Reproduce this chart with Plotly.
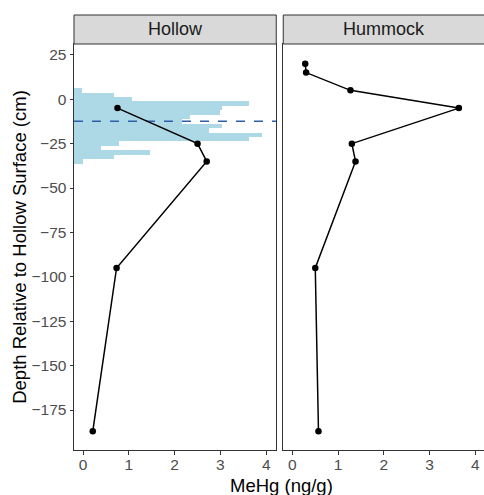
import plotly.graph_objects as go

# ---- data ----
hollow_depth = [-5, -25, -35, -95, -187]
hollow_mehg = [0.75, 2.50, 2.70, 0.73, 0.21]

hummock_depth = [20, 15, 5, -5, -25, -35, -95, -187]
hummock_mehg = [0.28, 0.30, 1.27, 3.64, 1.30, 1.38, 0.50, 0.57]

# water table histogram (bin centres in cm, bar extents on MeHg axis)
hist_depth = [5, 2.5, 0, -2.5, -5, -7.5, -10, -12.5, -15, -17.5, -20, -22.5,
              -25, -27.5, -30, -32.5, -35]
hist_extent = [-0.02, 0.67, 1.07, 3.62, 3.03, 3.00, 2.34, 2.16, 3.03, 2.74,
               3.91, 3.62, 0.78, 0.38, 1.47, 0.67, 0.0]
hist_binwidth = 2.5
mean_water_table = -12.4

panels = ["Hollow", "Hummock"]
x_ticks = [0, 1, 2, 3, 4]
y_ticks = [25, 0, -25, -50, -75, -100, -125, -150, -175]

x_range_left = [-0.2, 4.22]
x_range_right = [-0.2, 4.19]
y_range = [-197.5, 31.1]

FONT = "Liberation Sans, Arial, sans-serif"
BORDER = "#333333"
TICKCOL = "#4D4D4D"

fig = go.Figure()

# histogram of water table (Hollow panel)
fig.add_trace(go.Bar(
    y=hist_depth,
    x=[e - x_range_left[0] for e in hist_extent],
    base=x_range_left[0],
    orientation="h",
    width=hist_binwidth,
    marker=dict(color="#ADD8E6", line=dict(width=0)),
    xaxis="x", yaxis="y", showlegend=False, hoverinfo="skip",
))

# mean water table dashed line
fig.add_trace(go.Scatter(
    x=x_range_left, y=[mean_water_table, mean_water_table], mode="lines",
    line=dict(color="#2F5DA8", width=1.3, dash="dash"),
    xaxis="x", yaxis="y", showlegend=False, hoverinfo="skip",
))

fig.add_trace(go.Scatter(
    x=hollow_mehg, y=hollow_depth, mode="lines+markers",
    line=dict(color="black", width=1.5),
    marker=dict(color="black", size=6.5),
    xaxis="x", yaxis="y", showlegend=False,
))
fig.add_trace(go.Scatter(
    x=hummock_mehg, y=hummock_depth, mode="lines+markers",
    line=dict(color="black", width=1.5),
    marker=dict(color="black", size=6.5),
    xaxis="x2", yaxis="y2", showlegend=False,
))

dom_left = [0, 0.4933]
dom_right = [0.5104, 1]

common_x = dict(
    showgrid=False, zeroline=False, showline=True, linecolor=BORDER, linewidth=1,
    ticks="outside", ticklen=3.5, tickcolor=BORDER, tickwidth=1,
    tickvals=x_ticks, tickfont=dict(family=FONT, size=15.5, color=TICKCOL),
    ticklabelstandoff=-3,
)
fig.update_layout(
    xaxis=dict(domain=dom_left, range=x_range_left, anchor="y", mirror=True, **common_x),
    xaxis2=dict(domain=dom_right, range=x_range_right, anchor="y2", mirror=True, **common_x),
    yaxis=dict(
        domain=[0, 1], range=y_range, anchor="x", showgrid=False, zeroline=False,
        showline=True, mirror=True, linecolor=BORDER, linewidth=1,
        ticks="outside", ticklen=3.5, tickcolor=BORDER, tickwidth=1,
        tickvals=y_ticks, tickfont=dict(family=FONT, size=15.5, color=TICKCOL),
        title=dict(text="Depth Relative to Hollow Surface (cm)",
                   font=dict(family=FONT, size=18.5, color="black"), standoff=0),
    ),
    yaxis2=dict(
        domain=[0, 1], range=y_range, anchor="x2", showgrid=False, zeroline=False,
        showline=True, mirror=False, linecolor=BORDER, linewidth=1,
        showticklabels=False, ticks="",
    ),
    width=484, height=495,
    margin=dict(l=73.5, r=0, t=44, b=45),
    plot_bgcolor="white", paper_bgcolor="white",
    bargap=0,
)

# facet strips
strip_h = 29 / 406
for name, dom in zip(panels, [dom_left, dom_right]):
    x1 = dom[1] if dom[1] < 1 else 1.02
    fig.add_shape(type="rect", xref="paper", yref="paper",
                  x0=dom[0], x1=x1, y0=1, y1=1 + strip_h,
                  fillcolor="#D9D9D9", line=dict(color=BORDER, width=1))
    fig.add_annotation(xref="paper", yref="paper", x=(dom[0] + dom[1]) / 2,
                       y=1 + strip_h / 2, text=name, showarrow=False,
                       font=dict(family=FONT, size=18, color="#1A1A1A"),
                       xanchor="center", yanchor="middle")

# shared x title
fig.add_annotation(xref="paper", yref="paper", x=(dom_left[0] + 0.5104 + 0.4933) / 2 + 0.005,
                   y=0, yshift=-35, text="MeHg (ng/g)", showarrow=False,
                   font=dict(family=FONT, size=18.5, color="black"),
                   xanchor="center", yanchor="middle")

fig.write_html("out.html")
